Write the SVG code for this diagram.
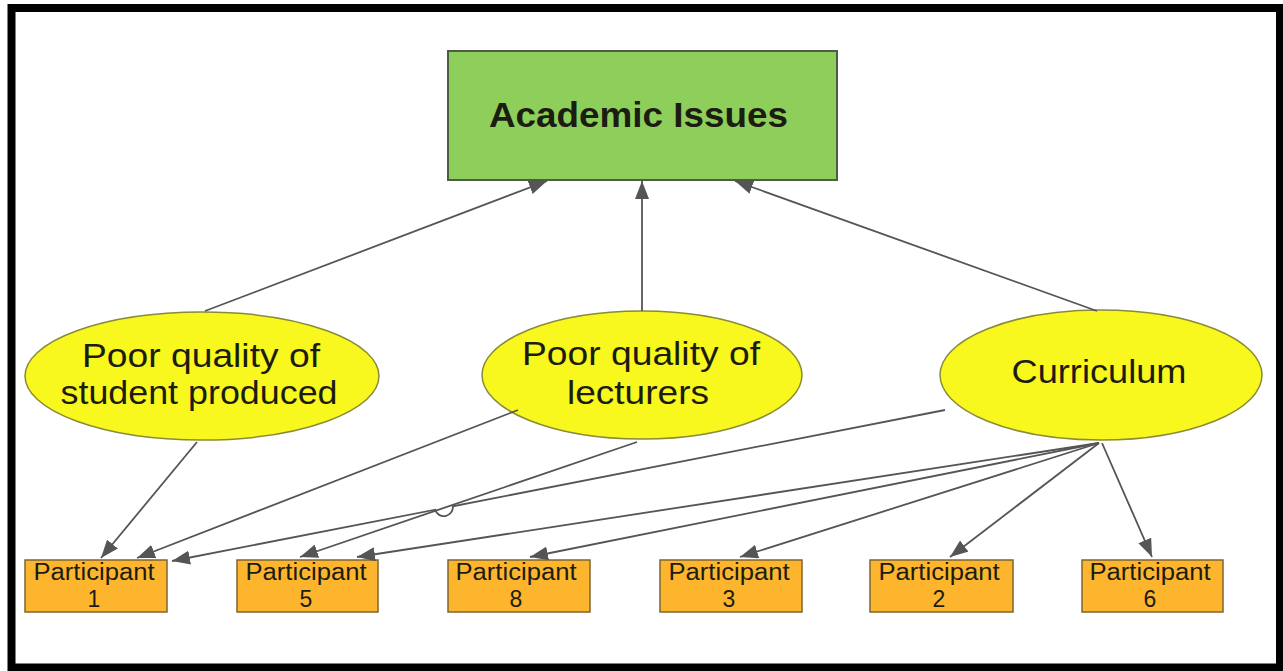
<svg xmlns="http://www.w3.org/2000/svg" width="1283" height="671" viewBox="0 0 1283 671">
<style>
.frame{fill:#fff;stroke:#000;stroke-width:8}
.top{fill:#8ECF5B;stroke:#4d5d44;stroke-width:2}
.ell{fill:#F8F81E;stroke:#8a8a3a;stroke-width:1.5}
.box{fill:#FDB52E;stroke:#7d6530;stroke-width:1.5}
.t{font-family:"Liberation Sans",Arial,sans-serif;fill:#1c1c10;text-anchor:middle}
.big{font-size:33px}
.head{font-size:35px;font-weight:bold}
.small{font-size:23px}
.c{fill:none;stroke:#555;stroke-width:1.8;marker-end:url(#ah)}
</style>
<defs>
<marker id="ah" viewBox="0 0 18 14" markerWidth="18" markerHeight="14" refX="18" refY="7" orient="auto" markerUnits="userSpaceOnUse">
<path d="M0,0 L18,7 L0,14 z" fill="#555"/>
</marker>
</defs>
<rect class="frame" x="11.5" y="8" width="1268.5" height="659.5"/>

<g id="academic-issues">
<rect class="top" x="448" y="51" width="389" height="129"/>
<text class="t head" x="638.5" y="127" textLength="299" lengthAdjust="spacingAndGlyphs">Academic Issues</text>
</g>

<g id="poor-quality-student">
<ellipse class="ell" cx="202" cy="376" rx="177" ry="64"/>
<text class="t big" x="201" y="367" textLength="238" lengthAdjust="spacingAndGlyphs">Poor quality of</text>
<text class="t big" x="199" y="404" textLength="277" lengthAdjust="spacingAndGlyphs">student produced</text>
</g>

<g id="poor-quality-lecturers">
<ellipse class="ell" cx="642" cy="375" rx="160" ry="64"/>
<text class="t big" x="641" y="365" textLength="238" lengthAdjust="spacingAndGlyphs">Poor quality of</text>
<text class="t big" x="638" y="404" textLength="142" lengthAdjust="spacingAndGlyphs">lecturers</text>
</g>

<g id="curriculum">
<ellipse class="ell" cx="1101" cy="375" rx="161" ry="65"/>
<text class="t big" x="1099" y="383" textLength="175" lengthAdjust="spacingAndGlyphs">Curriculum</text>
</g>

<g id="participant-1">
<rect class="box" x="25" y="560" width="142" height="52"/>
<text class="t small" x="94" y="580" textLength="121" lengthAdjust="spacingAndGlyphs">Participant</text>
<text class="t small" x="94" y="607">1</text>
</g>
<g id="participant-5">
<rect class="box" x="237" y="560" width="141" height="52"/>
<text class="t small" x="306" y="580" textLength="121" lengthAdjust="spacingAndGlyphs">Participant</text>
<text class="t small" x="306" y="607">5</text>
</g>
<g id="participant-8">
<rect class="box" x="448" y="560" width="142" height="52"/>
<text class="t small" x="516" y="580" textLength="121" lengthAdjust="spacingAndGlyphs">Participant</text>
<text class="t small" x="516" y="607">8</text>
</g>
<g id="participant-3">
<rect class="box" x="660" y="560" width="142" height="52"/>
<text class="t small" x="729" y="580" textLength="121" lengthAdjust="spacingAndGlyphs">Participant</text>
<text class="t small" x="729" y="607">3</text>
</g>
<g id="participant-2">
<rect class="box" x="870" y="560" width="143" height="52"/>
<text class="t small" x="939" y="580" textLength="121" lengthAdjust="spacingAndGlyphs">Participant</text>
<text class="t small" x="939" y="607">2</text>
</g>
<g id="participant-6">
<rect class="box" x="1082" y="560" width="141" height="52"/>
<text class="t small" x="1150" y="580" textLength="121" lengthAdjust="spacingAndGlyphs">Participant</text>
<text class="t small" x="1150" y="607">6</text>
</g>

<g id="connectors">
<path class="c" d="M205,311 L547,181"/>
<path class="c" d="M642,311 L642,181"/>
<path class="c" d="M1097,311 L735,181"/>
<path class="c" d="M197,442 L101,558"/>
<path class="c" d="M518,410 L137,558"/>
<path class="c" d="M945,410 L452.8,506.3 A9 9 0 0 1 435.2,509.7 L172,561"/>
<path class="c" d="M637,442 L300,557"/>
<path class="c" d="M1099,443 L357,557"/>
<path class="c" d="M1099,443 L530,557"/>
<path class="c" d="M1099,443 L740,557"/>
<path class="c" d="M1099,443 L950,557"/>
<path class="c" d="M1102,443 L1152,557"/>
</g>
</svg>
